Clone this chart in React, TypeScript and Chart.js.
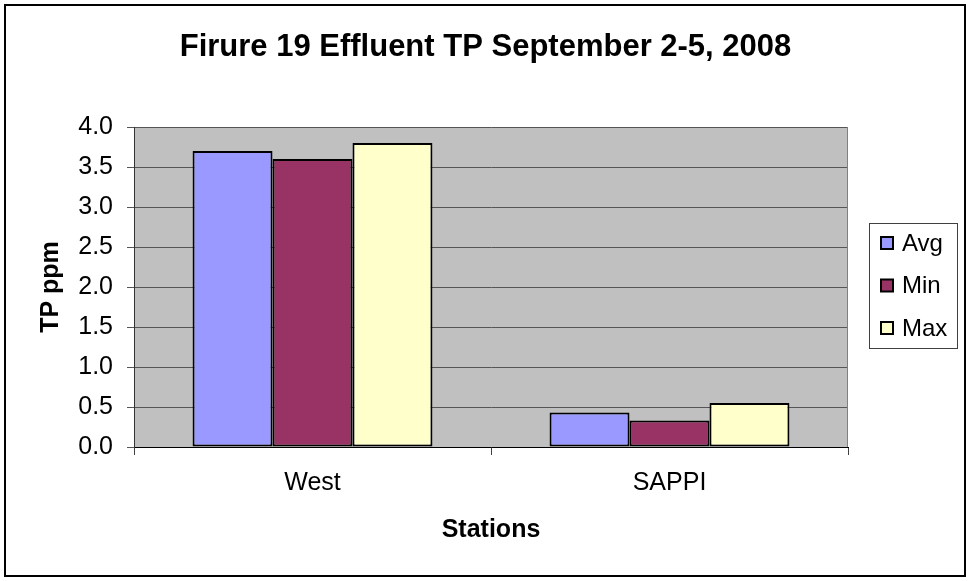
import React, { useEffect, useRef } from "react";
import { Chart, registerables } from "chart.js";

Chart.register(...registerables);

const TITLE = "Firure 19 Effluent TP September 2-5, 2008";
const X_TITLE = "Stations";
const Y_TITLE = "TP ppm";
const categories = ["West", "SAPPI"];
const seriesNames = ["Avg", "Min", "Max"];
const avgValues = [3.7, 0.43];
const minValues = [3.6, 0.33];
const maxValues = [3.8, 0.55];
const seriesColors = ["#9999FF", "#993366", "#FFFFCC"];
const Y_MIN = 0;
const Y_MAX = 4;
const Y_STEP = 0.5;

const FONT = "'Liberation Sans', Arial, Helvetica, sans-serif";

const framePlugin = {
  id: "frame",
  beforeDraw(chart: any) {
    const { ctx, chartArea } = chart;
    ctx.save();
    ctx.fillStyle = "#FFFFFF";
    ctx.fillRect(0, 0, chart.width, chart.height);
    ctx.fillStyle = "#C0C0C0";
    ctx.fillRect(
      chartArea.left,
      chartArea.top,
      chartArea.right - chartArea.left,
      chartArea.bottom - chartArea.top
    );
    ctx.restore();
  },
  beforeDatasetsDraw(chart: any) {
    const { ctx, chartArea } = chart;
    ctx.save();
    ctx.strokeStyle = "#808080";
    ctx.lineWidth = 1;
    ctx.beginPath();
    ctx.moveTo(Math.round(chartArea.right) - 0.5, chartArea.top);
    ctx.lineTo(Math.round(chartArea.right) - 0.5, chartArea.bottom);
    ctx.stroke();
    ctx.restore();
  },
  afterDraw(chart: any) {
    const { ctx, chartArea } = chart;
    ctx.save();
    // outer chart border
    ctx.strokeStyle = "#000000";
    ctx.lineWidth = 2;
    ctx.strokeRect(5, 5, chart.width - 11, chart.height - 10);

    // legend
    const datasets = chart.data.datasets;
    const boxLeft = chartArea.right + 21;
    const boxW = 88;
    const boxH = 125;
    const cy = (chartArea.top + chartArea.bottom) / 2;
    const boxTop = cy - boxH / 2 - 1.5;
    ctx.strokeStyle = "#404040";
    ctx.lineWidth = 1;
    ctx.strokeRect(Math.round(boxLeft) + 0.5, Math.round(boxTop) + 0.5, boxW, boxH);
    ctx.font = `24px ${FONT}`;
    ctx.textBaseline = "middle";
    ctx.textAlign = "left";
    datasets.forEach((ds: any, i: number) => {
      const y = boxTop + 20 + i * 42.5;
      ctx.fillStyle = ds.backgroundColor;
      ctx.fillRect(boxLeft + 12, y - 6, 12, 12);
      ctx.strokeStyle = "#000000";
      ctx.lineWidth = 2;
      ctx.strokeRect(boxLeft + 12, y - 6, 12, 12);
      ctx.fillStyle = "#000000";
      ctx.fillText(ds.label, boxLeft + 33, y + 1);
    });
    ctx.restore();
  },
};

export default function App() {
  const canvasRef = useRef<HTMLCanvasElement | null>(null);

  useEffect(() => {
    if (!canvasRef.current) return;
    const valueSets = [avgValues, minValues, maxValues];
    const chart = new Chart(canvasRef.current, {
      type: "bar",
      data: {
        labels: categories,
        datasets: seriesNames.map((name, i) => ({
          label: name,
          data: valueSets[i],
          backgroundColor: seriesColors[i],
          borderColor: "#000000",
          borderWidth: 2,
          borderSkipped: false,
          categoryPercentage: 0.672,
          barPercentage: 1.0,
          yAxisID: "y",
        })),
      },
      options: {
        responsive: false,
        animation: false,
        devicePixelRatio: 1,
        layout: { padding: 0 },
        plugins: {
          legend: { display: false },
          tooltip: { enabled: false },
          title: {
            display: true,
            text: TITLE,
            color: "#000000",
            font: { family: FONT, size: 31, weight: "bold" },
            padding: { top: 29, bottom: 60.8 },
          },
        },
        scales: {
          x: {
            grid: {
              display: true,
              drawOnChartArea: false,
              drawTicks: true,
              tickLength: 8,
              offset: true,
              color: "#404040",
            },
            border: { display: true, color: "#000000", width: 1 },
            ticks: {
              color: "#000000",
              font: { family: FONT, size: 25 },
              padding: 13,
            },
            title: {
              display: true,
              text: X_TITLE,
              color: "#000000",
              font: { family: FONT, size: 25, weight: "bold" },
              padding: { top: 0, bottom: 36 },
            },
            afterFit(scale: any) {
              scale.height = 134;
            },
          },
          y: {
            min: Y_MIN,
            max: Y_MAX,
            position: "left",
            grid: {
              color: "#555555",
              tickLength: 7,
              drawTicks: true,
            },
            border: { display: true, color: "#333333", width: 1 },
            ticks: {
              stepSize: Y_STEP,
              color: "#000000",
              font: { family: FONT, size: 25 },
              padding: 14,
              callback: (v: any) => Number(v).toFixed(1),
            },
            title: {
              display: true,
              text: Y_TITLE,
              color: "#000000",
              font: { family: FONT, size: 25, weight: "bold" },
              padding: { top: 36, bottom: 0 },
            },
            afterFit(scale: any) {
              scale.width = 134;
            },
          },
          legendSpace: {
            type: "linear",
            position: "right",
            display: true,
            grid: { display: false, drawTicks: false },
            border: { display: false },
            ticks: { display: false },
            afterFit(scale: any) {
              scale.width = 123;
            },
          },
        },
      } as any,
      plugins: [framePlugin],
    });
    return () => chart.destroy();
  }, []);

  return (
    <div style={{ position: "absolute", left: 0, top: 0, width: 971, height: 581 }}>
      <canvas ref={canvasRef} width={971} height={581} style={{ display: "block" }} />
    </div>
  );
}
